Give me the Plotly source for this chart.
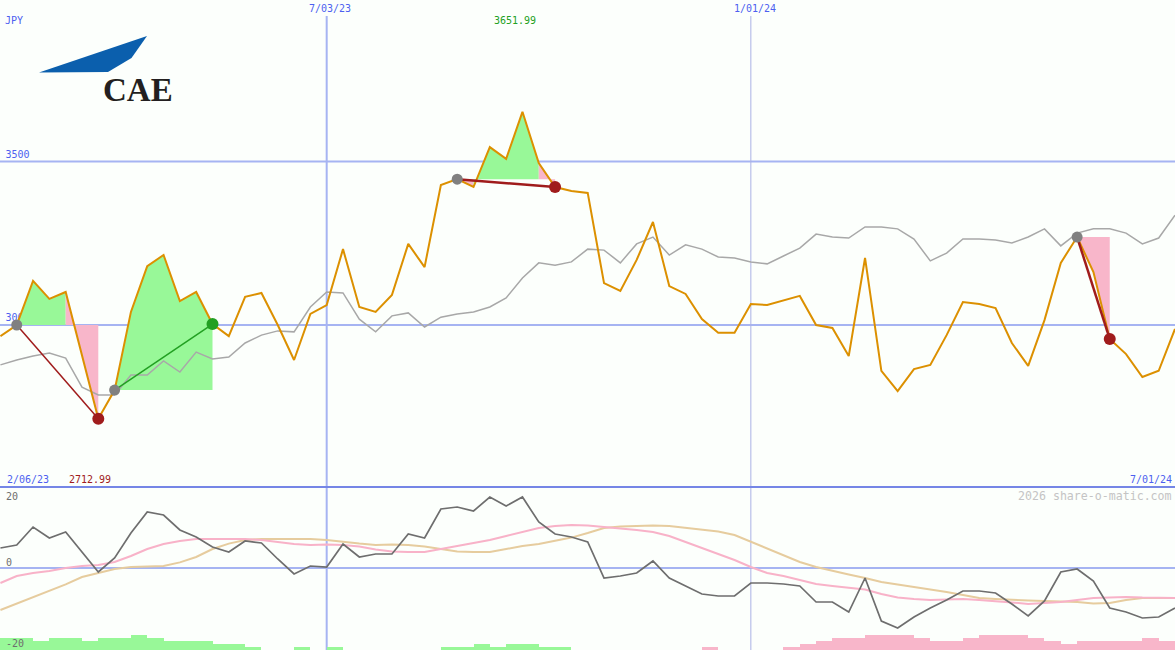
import pandas as pd
import plotly.graph_objects as go

# ---------------- data ----------------
start_date = "2023-02-13"
n_weeks = 73
dates = pd.date_range(start_date, periods=n_weeks, freq="7D")

price = [2966, 3000, 3135, 3080, 3101, 2908, 2712.99, 2801, 3040, 3180,
         3214, 3073, 3101, 3003, 2966, 3086, 3098, 3000, 2893, 3034,
         3061, 3232, 3055, 3040, 3092, 3248, 3177, 3428, 3446, 3422,
         3544, 3508, 3651.99, 3495, 3422, 3410, 3404, 3128, 3104, 3199,
         3315, 3119, 3095, 3018, 2976, 2976, 3064, 3061, 3076, 3089,
         3000, 2991, 2905, 3205, 2860, 2798, 2865, 2878, 2969, 3070,
         3064, 3052, 2945, 2875, 3015, 3190, 3269, 3162, 2957, 2911,
         2841, 2860, 2988]

avg = [2878, 2893, 2905, 2914, 2899, 2810, 2786, 2786, 2847, 2847,
       2890, 2856, 2917, 2896, 2902, 2945, 2969, 2982, 2979, 3055,
       3101, 3098, 3018, 2979, 3028, 3037, 2994, 3024, 3034, 3040,
       3055, 3083, 3144, 3190, 3183, 3193, 3232, 3229, 3190, 3248,
       3269, 3214, 3245, 3232, 3208, 3205, 3193, 3187, 3211, 3235,
       3278, 3269, 3266, 3300, 3300, 3294, 3263, 3196, 3220, 3263,
       3263, 3260, 3251, 3269, 3294, 3242, 3281, 3294, 3294, 3281,
       3248, 3266, 3336]

osc = [5.0, 5.75, 10.25, 7.5, 9.0, 4.0, -1.0, 2.5, 8.75, 14.0,
       13.25, 9.5, 7.75, 5.25, 4.0, 6.75, 6.25, 2.25, -1.5, 0.5,
       0.25, 6.0, 2.75, 3.5, 3.5, 8.5, 7.5, 14.75, 15.25, 14.25,
       17.75, 15.5, 17.75, 11.5, 8.5, 7.75, 6.5, -2.5, -2.0, -1.25,
       1.75, -2.5, -4.5, -6.5, -7.0, -7.0, -3.75, -3.75, -4.0, -4.5,
       -8.5, -8.5, -11.0, -2.5, -13.25, -15.0, -12.25, -10.0, -8.0, -5.75,
       -5.75, -6.25, -9.0, -12.0, -8.25, -1.0, -0.25, -3.25, -10.0, -11.0,
       -12.5, -12.25, -10.0]

sig_fast = [-3.75, -2.0, -1.25, -0.75, 0.0, 0.5, 0.75, 1.5, 3.0, 4.75,
            6.0, 6.75, 7.25, 7.25, 7.25, 7.25, 7.0, 6.5, 6.0, 5.75,
            5.9, 5.75, 5.4, 4.6, 4.1, 4.0, 4.0, 4.75, 5.5, 6.25,
            7.0, 8.0, 9.0, 10.0, 10.5, 10.75, 10.6, 10.25, 9.9, 9.5,
            9.0, 8.0, 6.5, 5.0, 3.5, 2.0, 0.25, -1.25, -2.0, -3.0,
            -4.0, -4.5, -4.9, -5.4, -6.5, -7.4, -7.75, -8.0, -7.9, -7.75,
            -8.0, -8.25, -8.6, -9.0, -8.75, -8.5, -8.0, -7.5, -7.4, -7.25,
            -7.4, -7.5, -7.5]

sig_slow = [-10.5, -8.9, -7.25, -5.6, -4.1, -2.25, -1.25, -0.25, 0.25, 0.4,
            0.5, 1.4, 2.75, 4.75, 6.1, 7.0, 7.25, 7.25, 7.25, 7.25,
            7.0, 6.5, 6.1, 5.75, 5.9, 5.75, 5.4, 4.75, 4.1, 4.0,
            4.0, 4.75, 5.5, 6.0, 6.75, 7.6, 8.75, 10.0, 10.4, 10.5,
            10.6, 10.5, 10.0, 9.5, 9.1, 8.25, 6.6, 5.0, 3.25, 1.5,
            0.25, -0.75, -1.6, -2.5, -3.5, -4.1, -4.75, -5.25, -6.0, -6.75,
            -7.5, -7.75, -8.0, -8.1, -8.25, -8.4, -8.5, -8.9, -8.75, -8.0,
            -7.5, -7.5, -7.5]

# weekly histogram (one value per week interval)
hist = [3.0, 3.0, 2.25, 3.0, 3.0, 2.25, 3.0, 3.0, 3.75, 3.0,
        2.25, 2.25, 2.25, 1.5, 1.5, 0.75, 0, 0, 0.75, 0,
        0.75, 0, 0, 0, 0, 0, 0, 0.75, 0.75, 1.5,
        0.75, 1.5, 1.5, 0.75, 0.75, 0, 0, 0, 0, 0,
        0, 0, 0, -0.75, 0, 0, 0, 0, -0.75, -1.5,
        -2.25, -3.0, -3.0, -3.75, -3.75, -3.75, -3.0, -2.25, -2.25, -3.0,
        -3.75, -3.75, -3.75, -3.0, -2.25, -1.5, -2.25, -2.25, -2.25, -2.25,
        -3.0, -2.25]

# price waves: (start index, end index)
waves = [(1, 6), (7, 13), (28, 34), (66, 68)]

vline_dates = ["2023-07-03", "2024-01-01"]
vline_labels = ["7/03/23", "1/01/24"]
price_levels = [3500, 3000]
osc_levels = [20, 0, -20]
start_label = "2/06/23"
end_label = "7/01/24"
currency = "JPY"
brand = "CAE"
credit = "2026 share-o-matic.com"

# ---------------- styling / layout ----------------
W, H = 1175, 650
SPLIT = 487  # pixel row of panel separator
BG = "#fcfffc"
BLUE_TXT = "#4d5ff0"
GRID = "#a6b4f2"
ORANGE = "#dc9000"
GRAYLINE = "#a8a8a8"
GREEN_FILL = "#98f898"
PINK_FILL = "#f8b6ca"
RED = "#a01c1c"
GREEN = "#22a022"
DOT_GRAY = "#808080"
FONT = "DejaVu Sans Mono"

x_range = [pd.Timestamp("2023-02-12 19:40"), pd.Timestamp("2024-07-01")]
y_top_range = [2504.6, 3993.9]
y_bot_range = [-20.5, 20.25]
px_per_day = W / ((x_range[1] - x_range[0]).total_seconds() / 86400)
px_per_price = 0.327

fig = go.Figure()

# price level labels (drawn under the fills)
lab_x = x_range[0] + pd.Timedelta(days=5.5 / px_per_day)
fig.add_trace(go.Scatter(
    x=[lab_x] * len(price_levels),
    y=[lv + 6.5 / px_per_price for lv in price_levels],
    text=[str(lv) for lv in price_levels],
    mode="text", textposition="middle right",
    textfont=dict(family=FONT, size=10, color=BLUE_TXT),
    hoverinfo="skip", xaxis="x", yaxis="y"))

# wave fills
for s, e in waves:
    base = price[s]
    runs = []
    for k in range(s, e):
        col = GREEN_FILL if price[k + 1] >= base else PINK_FILL
        if runs and runs[-1][2] == col:
            runs[-1][1] = k + 1
        else:
            runs.append([k, k + 1, col])
    for a, b, col in runs:
        xs = [dates[a]] + list(dates[a:b + 1]) + [dates[b]]
        ys = [base] + price[a:b + 1] + [base]
        fig.add_trace(go.Scatter(x=xs, y=ys, fill="toself", fillcolor=col,
                                 mode="lines", line=dict(width=0, color=col),
                                 hoverinfo="skip", xaxis="x", yaxis="y"))

# moving average and price
fig.add_trace(go.Scatter(x=dates, y=avg, mode="lines",
                         line=dict(color=GRAYLINE, width=1.5), xaxis="x", yaxis="y"))
fig.add_trace(go.Scatter(x=dates, y=price, mode="lines",
                         line=dict(color=ORANGE, width=2), xaxis="x", yaxis="y"))

# wave trend lines and dots
for i, (s, e) in enumerate(waves):
    up = price[e] >= price[s]
    col = GREEN if up else RED
    fig.add_trace(go.Scatter(x=[dates[s], dates[e]], y=[price[s], price[e]], mode="lines",
                             line=dict(color=col, width=1.5 if i < 2 else 2.5),
                             xaxis="x", yaxis="y"))
for s, e in waves:
    up = price[e] >= price[s]
    fig.add_trace(go.Scatter(x=[dates[s]], y=[price[s]], mode="markers",
                             marker=dict(color=DOT_GRAY, size=11, line=dict(width=0)),
                             xaxis="x", yaxis="y"))
    fig.add_trace(go.Scatter(x=[dates[e]], y=[price[e]], mode="markers",
                             marker=dict(color=GREEN if up else RED, size=12, line=dict(width=0)),
                             xaxis="x", yaxis="y"))

# lower panel: histogram bars
week = pd.Timedelta(days=7)
bar_x = [d + week / 2 for d in dates[:-1]]
pos = [v if v > 0 else 0 for v in hist]
neg = [-v if v < 0 else 0 for v in hist]
floor = y_bot_range[0]
fig.add_trace(go.Bar(x=bar_x, y=pos, base=floor, width=week.total_seconds() * 1000,
                     marker=dict(color=GREEN_FILL, line=dict(width=0)),
                     xaxis="x2", yaxis="y2"))
fig.add_trace(go.Bar(x=bar_x, y=neg, base=floor, width=week.total_seconds() * 1000,
                     marker=dict(color=PINK_FILL, line=dict(width=0)),
                     xaxis="x2", yaxis="y2"))

fig.add_trace(go.Scatter(x=dates, y=sig_slow, mode="lines",
                         line=dict(color="#e6cc9e", width=2), xaxis="x2", yaxis="y2"))
fig.add_trace(go.Scatter(x=dates, y=sig_fast, mode="lines",
                         line=dict(color="#f8b2c8", width=2), xaxis="x2", yaxis="y2"))
fig.add_trace(go.Scatter(x=dates, y=osc, mode="lines",
                         line=dict(color="#6e6e6e", width=1.7), xaxis="x2", yaxis="y2"))

# ---------------- shapes ----------------
shapes = []
for lv in price_levels:
    shapes.append(dict(type="line", xref="paper", yref="y", x0=0, x1=1, y0=lv, y1=lv,
                       line=dict(color=GRID, width=2), layer="below"))
shapes.append(dict(type="line", xref="paper", yref="y2", x0=0, x1=1, y0=0, y1=0,
                   line=dict(color=GRID, width=2), layer="below"))
for i, d in enumerate(vline_dates):
    shapes.append(dict(type="line", xref="x", yref="paper", x0=d, x1=d, y0=0, y1=1 - 16 / H,
                       line=dict(color=GRID if i == 0 else "#aab2e6", width=2 if i == 0 else 1),
                       layer="below"))
shapes.append(dict(type="line", xref="paper", yref="paper", x0=0, x1=1,
                   y0=1 - SPLIT / H, y1=1 - SPLIT / H,
                   line=dict(color="#7586e6", width=2), layer="below"))


def pp(px, py):
    return f"{px / W:.5f},{1 - py / H:.5f}"


logo_pts = [(39, 72.5), (147, 36), (131.5, 58), (108, 72)]
path = "M " + " L ".join(pp(x, y) for x, y in logo_pts) + " Z"
shapes.append(dict(type="path", xref="paper", yref="paper", path=path,
                   fillcolor="#0b5fad", line=dict(width=0), layer="above"))


# ---------------- annotations ----------------
def ann(text, px, py, color, xanchor="left", size=10, family=FONT):
    return dict(text=text, x=px / W, y=1 - py / H, xref="paper", yref="paper",
                xanchor=xanchor, yanchor="middle", showarrow=False,
                font=dict(family=family, size=size, color=color))


annotations = [
    ann(currency, 2.5, 21, BLUE_TXT),
    ann(f"{max(price):.2f}", 515, 21, GREEN, "center"),
    ann(start_label, 5, 479, BLUE_TXT),
    ann(f"{min(price):.2f}", 67, 479, RED),
    ann(end_label, 1174, 479, BLUE_TXT, "right"),
    ann(credit, 1174, 496, "#c4c4c4", "right", size=11.6),
    ann(str(osc_levels[0]), 4, 496, "#6e6e6e"),
    ann(str(osc_levels[1]), 4, 562, "#6e6e6e"),
    ann(str(osc_levels[2]), 4, 643, "#6e6e6e"),
    ann("<b>" + brand + "</b>", 138, 90, "#231f20", "center", size=33, family="Liberation Serif"),
]
vline_px = [326.7, 751.5]
for lbl, xp in zip(vline_labels, vline_px):
    annotations.append(ann(lbl, xp + 3.5, 8.5, BLUE_TXT, "center"))

top_dom = [1 - SPLIT / H, 1]
bot_dom = [0, 1 - SPLIT / H]
axis_common = dict(visible=False, showgrid=False, zeroline=False, fixedrange=True)

fig.update_layout(
    width=W, height=H, autosize=False,
    margin=dict(l=0, r=0, t=0, b=0, pad=0),
    paper_bgcolor=BG, plot_bgcolor=BG,
    showlegend=False, barmode="overlay", bargap=0,
    xaxis=dict(range=x_range, type="date", anchor="y", **axis_common),
    yaxis=dict(range=y_top_range, domain=top_dom, anchor="x", **axis_common),
    xaxis2=dict(range=x_range, type="date", anchor="y2", matches="x", **axis_common),
    yaxis2=dict(range=y_bot_range, domain=bot_dom, anchor="x2", **axis_common),
    shapes=shapes, annotations=annotations,
    hovermode=False,
)

fig.write_html(
    "out.html",
    config={"displayModeBar": False},
    post_script="document.body.style.margin='0';document.body.style.overflow='hidden';"
                "document.body.style.background='" + BG + "';",
)
